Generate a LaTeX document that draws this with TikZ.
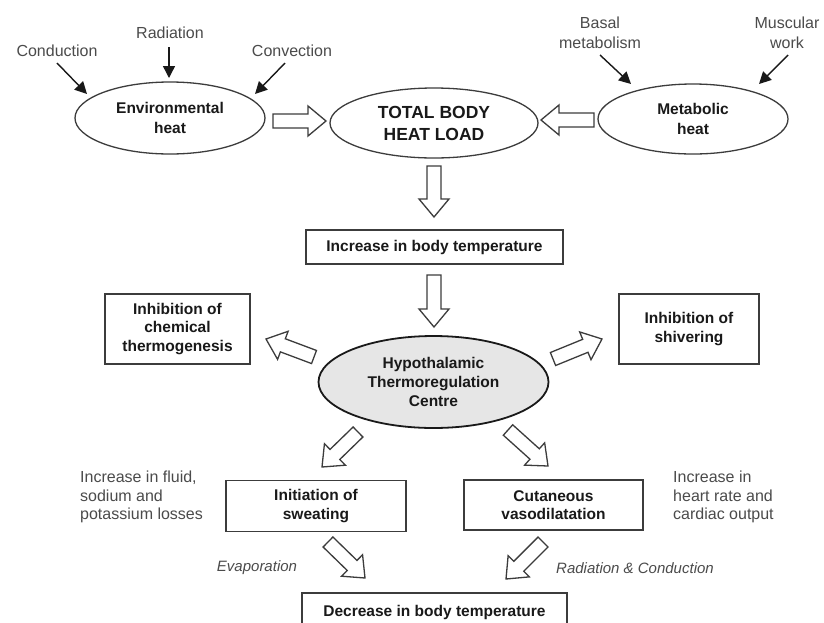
\documentclass[tikz,border=0pt]{standalone}
\usepackage{fontspec}
\setmainfont{Liberation Sans}
\usetikzlibrary{calc,arrows.meta,shapes.geometric}
\definecolor{ln}{RGB}{60,60,60}
\definecolor{tx}{RGB}{75,75,75}
\definecolor{bx}{RGB}{25,25,25}
\definecolor{hypofill}{RGB}{230,230,230}
\tikzset{
  ell/.style={ellipse, draw=ln, line width=1.3pt, inner sep=0pt, align=center, text=bx,
              font=\bfseries\fontsize{15.5}{19.5}\selectfont},
  boxn/.style={rectangle, draw=ln, line width=1.4pt, inner sep=0pt, align=center, text=bx,
              font=\bfseries\fontsize{15.5}{18.5}\selectfont},
  lbl/.style={inner sep=0pt, text=tx, align=center, font=\fontsize{16}{20.5}\selectfont},
  side/.style={inner sep=0pt, text=tx, align=left, font=\fontsize{16}{18.5}\selectfont},
  itl/.style={inner sep=0pt, text=tx, font=\itshape\fontsize{15}{18}\selectfont},
  hollow/.style={draw=ln, line width=1.3pt, fill=white, line join=miter},
  blk/.style={draw=bx, line width=1.4pt, -{Triangle[length=12pt,width=12pt]}}
}
\newcommand\hollowarr[2]{%
  \coordinate (hh) at ($(#2)!18pt!(#1)$);
  \draw[hollow] ($(#1)!7pt!90:(#2)$) -- ($(hh)!7pt!90:(#2)$) -- ($(hh)!15pt!90:(#2)$)
     -- (#2) -- ($(hh)!15pt!-90:(#2)$) -- ($(hh)!7pt!-90:(#2)$) -- ($(#1)!7pt!-90:(#2)$) -- cycle;
}
\begin{document}
\begin{tikzpicture}[x=1pt,y=-1pt]
\useasboundingbox (0,0) rectangle (824,622);
\clip (0,0) rectangle (824,622);
\fill[white] (0,0) rectangle (824,622);

% top labels
\node[lbl] (cond) at (57,51) {Conduction};
\node[lbl] (rad) at (170,33) {Radiation};
\node[lbl] (conv) at (292,51) {Convection};
\node[lbl] (basal) at (600,33) {Basal\\metabolism};
\node[lbl] (musc) at (787,33) {Muscular\\work};

% ellipses
\node[ell, minimum width=190pt, minimum height=72pt] (env) at (170,118) {Environmental\\heat};
\node[ell, minimum width=208pt, minimum height=70pt, font=\bfseries\fontsize{17.5}{22}\selectfont] (total) at (434,123) {TOTAL BODY\\HEAT LOAD};
\node[ell, minimum width=190pt, minimum height=70pt] (met) at (693,119) {Metabolic\\heat};
\node[ell, minimum width=230pt, minimum height=92pt, fill=hypofill, draw=bx, line width=1.8pt,
      font=\bfseries\fontsize{15.5}{19}\selectfont] (hypo) at (433.5,382) {Hypothalamic\\Thermoregulation\\Centre};

% boxes
\node[boxn, minimum width=257pt, minimum height=34pt] (inc) at (434.5,247) {Increase in body temperature};
\node[boxn, minimum width=145pt, minimum height=70pt] (chem) at (177.5,329) {Inhibition of\\chemical\\thermogenesis};
\node[boxn, minimum width=140pt, minimum height=70pt] (shiv) at (689,329) {Inhibition of\\shivering};
\node[boxn, minimum width=180pt, minimum height=51pt] (sweat) at (316,506) {Initiation of\\sweating};
\node[boxn, minimum width=179pt, minimum height=50pt] (cut) at (553.5,505) {Cutaneous\\vasodilatation};
\node[boxn, minimum width=265pt, minimum height=38pt] (dec) at (434.5,612) {Decrease in body temperature};

% side texts
\node[side, anchor=north west] (fluid) at (80,471) {Increase in fluid,\\sodium and\\potassium losses};
\node[side, anchor=north west] (heart) at (673,471) {Increase in\\heart rate and\\cardiac output};
\node[itl] (evap) at (257,568) {Evaporation};
\node[itl] (radc) at (635,568) {Radiation \& Conduction};

% black arrows
\coordinate (c1) at (57,63);   \coordinate (c2) at (87,94);
\coordinate (r1) at (169,47);  \coordinate (r2) at (169,78);
\coordinate (v1) at (285,63);  \coordinate (v2) at (255,94);
\coordinate (b1) at (600,55);  \coordinate (b2) at (631,84);
\coordinate (m1) at (788,55);  \coordinate (m2) at (759,84);
\draw[blk] (c1) -- (c2);
\draw[blk] (r1) -- (r2);
\draw[blk] (v1) -- (v2);
\draw[blk] (b1) -- (b2);
\draw[blk] (m1) -- (m2);

% hollow arrows
\coordinate (a1s) at (273,121); \coordinate (a1e) at (326,121);
\coordinate (a2s) at (594,120); \coordinate (a2e) at (541,120);
\coordinate (a3s) at (434,166); \coordinate (a3e) at (434,217);
\coordinate (a4s) at (434,275); \coordinate (a4e) at (434,327);
\coordinate (a5s) at (314,357); \coordinate (a5e) at (266,339);
\coordinate (a6s) at (553,359); \coordinate (a6e) at (602,339);
\coordinate (a7s) at (358,432); \coordinate (a7e) at (322,467);
\coordinate (a8s) at (508,430); \coordinate (a8e) at (548,466);
\coordinate (a9s) at (328,542); \coordinate (a9e) at (365,578);
\coordinate (a10s) at (543,542); \coordinate (a10e) at (506,579);
\hollowarr{a1s}{a1e}
\hollowarr{a2s}{a2e}
\hollowarr{a3s}{a3e}
\hollowarr{a4s}{a4e}
\hollowarr{a5s}{a5e}
\hollowarr{a6s}{a6e}
\hollowarr{a7s}{a7e}
\hollowarr{a8s}{a8e}
\hollowarr{a9s}{a9e}
\hollowarr{a10s}{a10e}
\end{tikzpicture}
\end{document}
